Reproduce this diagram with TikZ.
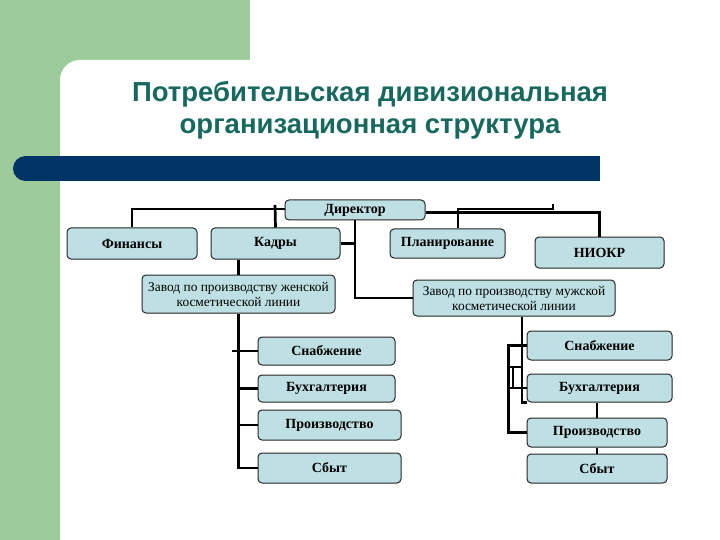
\documentclass[tikz,border=0pt]{standalone}
\usepackage{fontspec}
\setmainfont{Liberation Serif}
\newfontfamily\titlefont{Liberation Sans}
\usepackage{tikz}
\usetikzlibrary{positioning,calc}
\definecolor{slidegreen}{HTML}{9DCB9B}
\definecolor{barblue}{HTML}{003466}
\definecolor{titleteal}{HTML}{17695F}
\definecolor{boxfill}{HTML}{BEDFE3}
\tikzset{
  orgbox/.style={
    draw=black!85,
    fill=boxfill,
    line width=1pt,
    rounded corners=4pt,
    align=center,
    font=\fontsize{14}{16}\selectfont\bfseries,
    inner sep=2pt
  },
  plantbox/.style={
    orgbox,
    font=\fontsize{13.4}{15}\selectfont
  },
  orgline/.style={draw=black, line width=2.7pt}
}

\begin{document}
\begin{tikzpicture}[x=1pt,y=-1pt]
  \useasboundingbox (0,0) rectangle (720,540);
  % background of the slide
  \fill[white] (0,0) rectangle (720,540);
  \fill[slidegreen] (0,0) rectangle (250,540);
  \fill[white] (60,540) -- (60,80) .. controls (60,69) and (69,60) .. (80,60) -- (720,60) -- (720,540) -- cycle;
  \fill[barblue] (25.5,156) rectangle (600,181);
  \fill[barblue] (25.5,168.5) circle[radius=12.5];

  \node[font=\titlefont\fontsize{27.5}{32}\selectfont\bfseries,text=titleteal,align=center] (title) at (370,110)
    {Потребительская дивизиональная\\организационная структура};

  % top level
  \node[orgbox,minimum width=140,minimum height=20] (dir) at (355,210) {Директор};
  \node[orgbox,minimum width=130,minimum height=31] (fin) at (132,243.5) {Финансы};
  \node[orgbox,minimum width=129,minimum height=31] (kad) at (275.5,243.5) {Кадры};
  \node[orgbox,minimum width=115,minimum height=29] (plan) at (447.5,243.5) {Планирование};
  \node[orgbox,minimum width=129,minimum height=31] (niokr) at (599.5,252.5) {НИОКР};

  % plants
  \node[plantbox,minimum width=193,minimum height=38] (zavW) at (238.5,294) {Завод по производству женской\\косметической линии};
  \node[plantbox,minimum width=202,minimum height=36] (zavM) at (514,298) {Завод по производству мужской\\косметической линии};

  % left column
  \node[orgbox,minimum width=137,minimum height=28] (lsn) at (326.5,351) {Снабжение};
  \node[orgbox,minimum width=137,minimum height=27] (lbu) at (326.5,388.5) {Бухгалтерия};
  \node[orgbox,minimum width=143,minimum height=30] (lpr) at (329.5,425) {Производство};
  \node[orgbox,minimum width=143,minimum height=30] (lsb) at (329.5,468) {Сбыт};

  % right column
  \node[orgbox,minimum width=145,minimum height=29] (rsn) at (599.5,345.5) {Снабжение};
  \node[orgbox,minimum width=145,minimum height=28] (rbu) at (599.5,388) {Бухгалтерия};
  \node[orgbox,minimum width=140,minimum height=29] (rpr) at (597,432.5) {Производство};
  \node[orgbox,minimum width=140,minimum height=29] (rsb) at (597,468.5) {Сбыт};

  % free ends of the connectors
  \coordinate (kadtop) at (275,205);
  \coordinate (planjoin) at (553,209);
  \coordinate (plantip) at (553,204);
  \coordinate (lstub) at (232,351);
  \coordinate (rjoinA) at (522,367);
  \coordinate (rjoinB) at (509,367);
  \coordinate (rjoinC) at (513,367);
  \coordinate (rjoinD) at (513,388);

  \draw[orgline] ([yshift=1pt]dir.west) -| (fin.north);
  \draw[orgline] (kad.north) -- (kadtop);
  \draw[orgline] (dir.south) |- (zavM.west);
  \draw[orgline] (kad.east) -- (kad.east -| dir.south);
  \draw[orgline] ([yshift=-2.5pt]dir.east) -| (niokr.north);
  \draw[orgline] ([xshift=10.5pt]plan.north) |- (planjoin) -- (plantip);
  \draw[orgline] (zavW.north) -- (zavW.north |- kad.south);

  \draw[orgline] (zavW.south) |- (lsb.west);
  \draw[orgline] (lstub) -- (lsn.west);
  \draw[orgline] (lbu.west) -- (lbu.west -| zavW.south);
  \draw[orgline] (lpr.west) -- (lpr.west -| zavW.south);

  \draw[orgline] ([xshift=8pt]zavM.south) |- (rbu.south west);
  \draw[orgline] (rsn.west) -- ++(-18,0) |- (rpr.west);
  \draw[orgline] (rbu.west) -- ++(-18,0);
  \draw[orgline] (rjoinA) -- (rjoinB);
  \draw[orgline] (rjoinC) -- (rjoinD);
  \draw[orgline] (rpr.north) -- (rpr.north |- rbu.south);
  \draw[orgline] (rsb.north) -- (rsb.north |- rpr.south);
\end{tikzpicture}
\end{document}
